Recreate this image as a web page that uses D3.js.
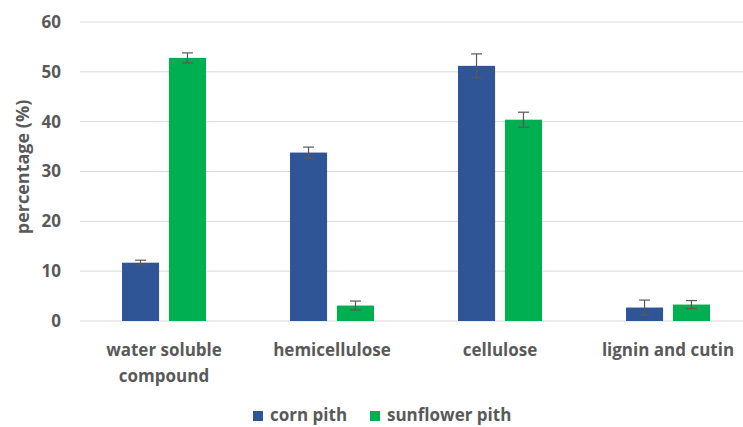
<!DOCTYPE html>
<html>
<head>
<meta charset="utf-8">
<script src="https://cdn.jsdelivr.net/npm/d3@7"></script>
<style>
  body { margin: 0; background: #fff; }
  text { font-family: "Open Sans", Lato, sans-serif; font-weight: bold; fill: #595959; }
</style>
</head>
<body>
<script>
// Chart data
const categories = ["water soluble compound", "hemicellulose", "cellulose", "lignin and cutin"];
const seriesNames = ["corn pith", "sunflower pith"];
const cornValues = [11.7, 33.8, 51.2, 2.7];
const cornErrors = [0.5, 1.1, 2.4, 1.5];
const sunflowerValues = [52.8, 3.1, 40.4, 3.3];
const sunflowerErrors = [1.0, 0.9, 1.5, 0.8];
const yTicks = [0, 10, 20, 30, 40, 50, 60];

const colors = ["#2F5597", "#00B050"];

const width = 743, height = 427;
const margin = { left: 80, right: -9, top: 22, bottom: 106 };

const svg = d3.select("body").append("svg")
    .attr("width", width)
    .attr("height", height);

const x0 = d3.scaleBand()
    .domain(categories)
    .range([margin.left, width - margin.right]);

const bw = x0.bandwidth();
const x1 = d3.scaleBand()
    .domain(seriesNames)
    .range([bw / 4, bw * 3 / 4])
    .paddingInner(0.21);

const y = d3.scaleLinear()
    .domain([0, 60])
    .range([height - margin.bottom, margin.top]);

// gridlines
svg.append("g")
    .selectAll("line")
    .data(yTicks)
    .enter().append("line")
    .attr("x1", margin.left)
    .attr("x2", width - margin.right)
    .attr("y1", d => y(d))
    .attr("y2", d => y(d))
    .attr("stroke", "#d9d9d9")
    .attr("stroke-width", 1);

// y axis labels
const yAxis = svg.append("g")
    .attr("transform", `translate(${margin.left - 19},0)`)
    .call(d3.axisLeft(y).tickValues(yTicks).tickSize(0).tickPadding(0));
yAxis.select(".domain").remove();
yAxis.selectAll("text")
    .attr("font-size", 17)
    .attr("font-family", null)
    .attr("fill", null);

svg.append("text")
    .attr("transform", `translate(29,167) rotate(-90)`)
    .attr("text-anchor", "middle")
    .attr("font-size", 18)
    .text("percentage (%)");

// bars
const rows = categories.map((c, i) => ({
    cat: c,
    vals: [
        { s: seriesNames[0], v: cornValues[i], e: cornErrors[i], color: colors[0] },
        { s: seriesNames[1], v: sunflowerValues[i], e: sunflowerErrors[i], color: colors[1] }
    ]
}));

const groups = svg.append("g")
    .selectAll("g")
    .data(rows)
    .enter().append("g")
    .attr("transform", d => `translate(${x0(d.cat)},0)`);

groups.selectAll("rect")
    .data(d => d.vals)
    .enter().append("rect")
    .attr("x", d => x1(d.s))
    .attr("width", x1.bandwidth())
    .attr("y", d => y(d.v))
    .attr("height", d => y(0) - y(d.v))
    .attr("fill", d => d.color);

// error bars
const err = groups.selectAll("g.err")
    .data(d => d.vals)
    .enter().append("g")
    .attr("class", "err")
    .attr("stroke", "#595959")
    .attr("stroke-width", 1.2);

err.append("line")
    .attr("x1", d => x1(d.s) + x1.bandwidth() / 2)
    .attr("x2", d => x1(d.s) + x1.bandwidth() / 2)
    .attr("y1", d => y(d.v + d.e))
    .attr("y2", d => y(d.v - d.e));
err.selectAll("line.cap")
    .data(d => [{ d, v: d.v + d.e }, { d, v: d.v - d.e }])
    .enter().append("line")
    .attr("class", "cap")
    .attr("x1", c => x1(c.d.s) + x1.bandwidth() / 2 - 5.5)
    .attr("x2", c => x1(c.d.s) + x1.bandwidth() / 2 + 5.5)
    .attr("y1", c => y(c.v))
    .attr("y2", c => y(c.v));

// category labels
const labelLines = {
    "water soluble compound": ["water soluble", "compound"]
};
svg.append("g")
    .selectAll("text")
    .data(categories)
    .enter().append("text")
    .attr("text-anchor", "middle")
    .attr("font-size", 17)
    .attr("x", d => x0(d) + bw / 2)
    .attr("y", 356)
    .each(function (d) {
        const lines = labelLines[d] || [d];
        d3.select(this).selectAll("tspan")
            .data(lines)
            .enter().append("tspan")
            .attr("x", x0(d) + bw / 2)
            .attr("dy", (l, i) => i === 0 ? 0 : 26)
            .text(l => l);
    });

// legend
const legend = svg.append("g").attr("transform", "translate(253,421)");
const legendX = [0, 117];
seriesNames.forEach((s, i) => {
    const g = legend.append("g").attr("transform", `translate(${legendX[i]},0)`);
    g.append("rect")
        .attr("x", 0).attr("y", -10)
        .attr("width", 10).attr("height", 10)
        .attr("fill", colors[i]);
    g.append("text")
        .attr("x", 17).attr("y", 0)
        .attr("font-size", 17)
        .text(s);
});
</script>
</body>
</html>
